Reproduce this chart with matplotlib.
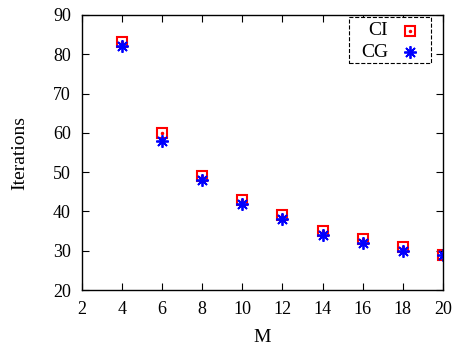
import matplotlib
matplotlib.use("Agg")
import matplotlib.pyplot as plt
from matplotlib.patches import Rectangle

plt.rcParams['font.family'] = ['Liberation Serif', 'DejaVu Serif']

m = [4, 6, 8, 10, 12, 14, 16, 18, 20]
ci = [83, 60, 49, 43, 39, 35, 33, 31, 29]
cg = [82, 58, 48, 42, 38, 34, 32, 30, 29]
names = ['CI', 'CG']

fig = plt.figure(figsize=(4.56, 3.47), dpi=100)
ax = fig.add_axes([0.18, 0.164, 0.791, 0.793])

sq_style = dict(linestyle='none', marker='s', markersize=7,
                markerfacecolor='none', markeredgecolor='red', markeredgewidth=1.5)
dot_style = dict(linestyle='none', marker='o', markersize=1.5, color='red')
st_style = dict(linestyle='none', marker=(8, 2, 0), markersize=9,
                color='blue', markeredgewidth=1.3)

ax.plot(m, ci, **sq_style)
ax.plot(m, ci, **dot_style)
ax.plot(m, cg, **st_style)

ax.set_xlim(2, 20)
ax.set_ylim(20, 90)
ax.set_xticks(range(2, 21, 2))
ax.set_yticks(range(20, 91, 10))
ax.tick_params(direction='in', top=True, right=True, labelsize=13, length=5, pad=8)
ax.set_xlabel('M', fontsize=14, labelpad=8)
ax.set_ylabel('Iterations', fontsize=14, labelpad=18)
for s in ax.spines.values():
    s.set_linewidth(1.0)

# gnuplot-like key: right-justified labels, dashed box
box = Rectangle((0.740, 0.825), 0.227, 0.168, transform=ax.transAxes,
                facecolor='white', edgecolor='black', linestyle='--',
                linewidth=0.8, zorder=5, clip_on=False)
ax.add_patch(box)
ys = [0.942, 0.865]
ax.text(0.848, ys[0], names[0], transform=ax.transAxes, ha='right', va='center',
        fontsize=14, zorder=6)
ax.text(0.848, ys[1], names[1], transform=ax.transAxes, ha='right', va='center',
        fontsize=14, zorder=6)
ax.plot([0.909], [ys[0]], transform=ax.transAxes, clip_on=False, zorder=6, **sq_style)
ax.plot([0.909], [ys[0]], transform=ax.transAxes, clip_on=False, zorder=6, **dot_style)
ax.plot([0.909], [ys[1]], transform=ax.transAxes, clip_on=False, zorder=6, **st_style)

fig.savefig('out.png', dpi=100)
